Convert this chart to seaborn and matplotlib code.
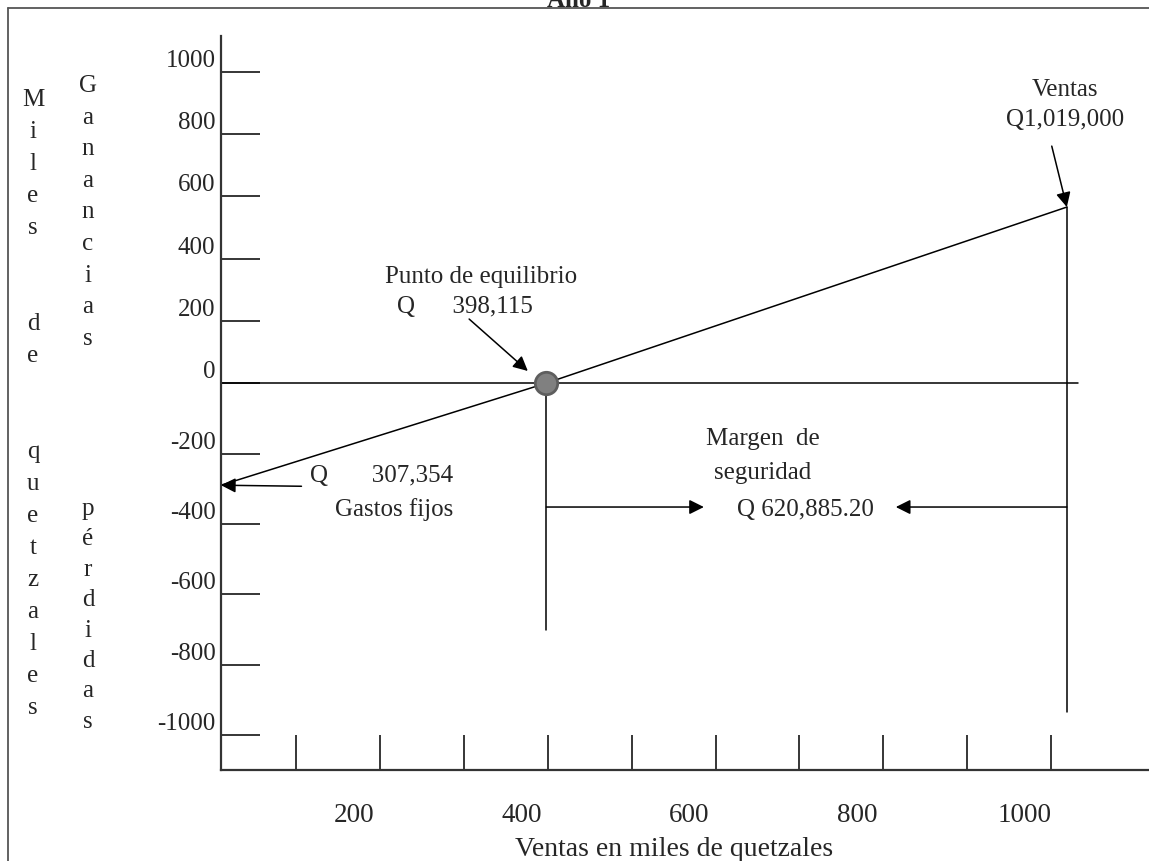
import numpy as np
import pandas as pd
import seaborn as sns
import matplotlib.pyplot as plt
from matplotlib.lines import Line2D
from matplotlib.transforms import ScaledTranslation

# ---------------- Datos (miles de quetzales) ----------------
ventas_x = [10, 398.115, 1019]
resultado_y = [-290, 0, 566]
equilibrio_x = [398.115]
equilibrio_y = [0]
ventas_total = 1019
gastos_fijos = -290
margen_y = -352
fondo_equilibrio = -700
fondo_ventas = -935
fin_cero = 1032

x_marcas = [100, 200, 300, 400, 500, 600, 700, 800, 900, 1000]
x_etiquetas = ["", "200", "", "400", "", "600", "", "800", "", "1000"]
y_marcas = [-1000, -800, -600, -400, -200, 0, 200, 400, 600, 800, 1000]

# ---------------- Estilo ----------------
sns.set_theme(style="white")
plt.rcParams["font.family"] = ["Liberation Serif", "DejaVu Serif"]
FS = 18

W, H = 1149, 862
fig = plt.figure(figsize=(W / 100, H / 100), dpi=100)
ax = fig.add_axes([221 / W, 1 - 771 / H, 1 - 221 / W, (771 - 37) / H])

# escala del eje y: la parte negativa esta mas estirada que la positiva
k_neg = 0.352 / 0.311


def fwd(v):
    v = np.asarray(v, dtype=float)
    return np.where(v >= 0, v, v * k_neg)


def inv(v):
    v = np.asarray(v, dtype=float)
    return np.where(v >= 0, v, v / k_neg)


ax.set_yscale("function", functions=(fwd, inv))

# ---------------- Lineas ----------------
LW = 1.1
df = pd.DataFrame({"ventas": ventas_x, "resultado": resultado_y})
sns.lineplot(data=df, x="ventas", y="resultado", color="black", lw=LW, ax=ax)
ax.plot([ventas_x[0], fin_cero], [0, 0], color="black", lw=LW)
ax.plot([equilibrio_x[0]] * 2, [0, fondo_equilibrio], color="black", lw=LW)
ax.plot([ventas_total] * 2, [resultado_y[-1], fondo_ventas], color="black", lw=LW)
sns.scatterplot(x=equilibrio_x, y=equilibrio_y, s=260, color="#808080",
                edgecolor="#5e5e5e", linewidth=2, zorder=5, ax=ax)

# ---------------- Flechas y textos ----------------
flecha = dict(arrowstyle="-|>", color="black", lw=LW, mutation_scale=22,
              shrinkA=0, shrinkB=0)

ax.annotate("", xy=(ventas_total, resultado_y[-1]), xytext=(1001, 762),
            arrowprops=flecha)
ax.text(1017, 945, "Ventas", ha="center", va="center", fontsize=FS)
ax.text(1017, 849, "Q1,019,000", ha="center", va="center", fontsize=FS)

ax.annotate("", xy=(376, 39), xytext=(306, 206), arrowprops=flecha)
ax.text(206, 344, "Punto de equilibrio", ha="left", va="center", fontsize=FS)
ax.text(220, 248, "Q      398,115", ha="left", va="center", fontsize=FS)

ax.annotate("", xy=(ventas_x[0], gastos_fijos), xytext=(106, -293),
            arrowprops=flecha)
ax.text(116, -261, "Q       307,354", ha="left", va="center", fontsize=FS)
ax.text(216, -355, "Gastos fijos", ha="center", va="center", fontsize=FS)

ax.annotate("", xy=(586, margen_y), xytext=(equilibrio_x[0], margen_y),
            arrowprops=flecha)
ax.annotate("", xy=(815, margen_y), xytext=(ventas_total, margen_y),
            arrowprops=flecha)
ax.text(656, -156, "Margen  de", ha="center", va="center", fontsize=FS)
ax.text(656, -253, "seguridad", ha="center", va="center", fontsize=FS)
ax.text(707, -358, "Q 620,885.20", ha="center", va="center", fontsize=FS)

# ---------------- Ejes ----------------
ax.set_xlim(10, 1117)
ax.set_ylim(-1099, 1116)
ax.set_xticks(x_marcas)
ax.set_xticklabels(x_etiquetas)
ax.set_yticks(y_marcas)
ax.set_yticklabels([str(v) for v in y_marcas])
ax.tick_params(axis="x", bottom=True, direction="in", length=25, width=1.1,
               color="black", pad=23, labelsize=19.5)
ax.tick_params(axis="y", left=True, direction="in", length=28, width=1.1,
               color="black", pad=4, labelsize=FS)

for lbl in ax.get_xticklabels():
    lbl.set_transform(lbl.get_transform() + ScaledTranslation(-0.26, 0, fig.dpi_scale_trans))
for lbl in ax.get_yticklabels():
    lbl.set_transform(lbl.get_transform() + ScaledTranslation(0, 0.145, fig.dpi_scale_trans))

sns.despine(ax=ax, top=True, right=True)
for s in ["left", "bottom"]:
    ax.spines[s].set_color("#333333")
    ax.spines[s].set_linewidth(1.6)
ax.set_xlabel("")
ax.set_ylabel("")
ax.set_facecolor("none")
fig.text(674 / W, 1 - 850 / H, "Ventas en miles de quetzales", ha="center",
         va="center", fontsize=20)

# la marca de -200 es gris claro en el original
for t in ax.yaxis.get_major_ticks():
    if abs(t.get_loc() + 200) < 1e-6:
        t.tick1line.set_color("#9a9a9a")

# letras verticales
for i, ch in enumerate("Miles  de  quetzales"):
    fig.text(33 / W, 1 - (100 + 32 * i) / H, ch, ha="center", va="center", fontsize=FS)
for i, ch in enumerate("Ganancias"):
    fig.text(88 / W, 1 - (86 + 31.6 * i) / H, ch, ha="center", va="center", fontsize=FS)
for i, ch in enumerate("pérdidas"):
    fig.text(88 / W, 1 - (509 + 30.4 * i) / H, ch, ha="center", va="center", fontsize=FS)

# marco y titulo
fig.add_artist(Line2D([8 / W, 1], [1 - 9 / H, 1 - 9 / H], color="#555555", lw=1.3))
fig.add_artist(Line2D([8 / W, 8 / W], [0, 1 - 9 / H], color="#555555", lw=1.3))
fig.text(579 / W, 1 - 7 / H, "Año 1", ha="center", va="baseline",
         fontsize=FS, fontweight="bold")

fig.savefig("out.png", dpi=100)
